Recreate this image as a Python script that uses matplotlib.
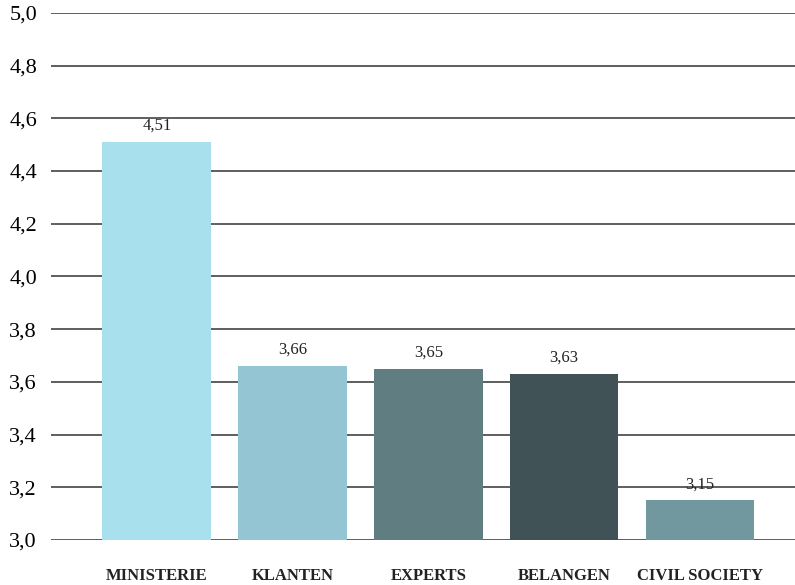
import matplotlib.pyplot as plt

categorieen = ['MINISTERIE', 'KLANTEN', 'EXPERTS', 'BELANGEN', 'CIVIL SOCIETY']
scores = [4.51, 3.66, 3.65, 3.63, 3.15]
kleuren = ['#a8e0ee', '#94c5d3', '#607e82', '#405255', '#71989f']
yticks = [3.0, 3.2, 3.4, 3.6, 3.8, 4.0, 4.2, 4.4, 4.6, 4.8, 5.0]

plt.rcParams['font.family'] = ['Liberation Serif', 'DejaVu Serif']

fig = plt.figure(figsize=(7.95, 5.85), dpi=100)
ax = fig.add_axes([0.064, 0.077, 0.936, 0.901])

x = range(len(categorieen))
bars = ax.bar(x, scores, width=0.8, color=kleuren, zorder=3)

for xi, v in zip(x, scores):
    ax.text(xi, v + 0.03, f'{v:.2f}'.replace('.', ','), ha='center', va='bottom',
            fontsize=12, color='#222222', zorder=4)

ax.set_ylim(3.0, 5.0)
ax.set_xlim(-0.78, 4.70)
ax.set_yticks(yticks)
ax.set_yticklabels([f'{t:.1f}'.replace('.', ',') for t in yticks], fontsize=16)
ax.set_xticks(list(x))
ax.set_xticklabels(categorieen, fontsize=12, fontweight='bold', color='#222222')
ax.tick_params(axis='x', length=0, pad=29)
ax.tick_params(axis='y', length=0, pad=10)
for lbl in ax.get_xticklabels():
    lbl.set_verticalalignment('baseline')
ax.yaxis.grid(True, color='#333333', linewidth=1.1, zorder=0)
ax.set_axisbelow(True)
for s in ax.spines.values():
    s.set_visible(False)

fig.savefig('out.png', dpi=100)
